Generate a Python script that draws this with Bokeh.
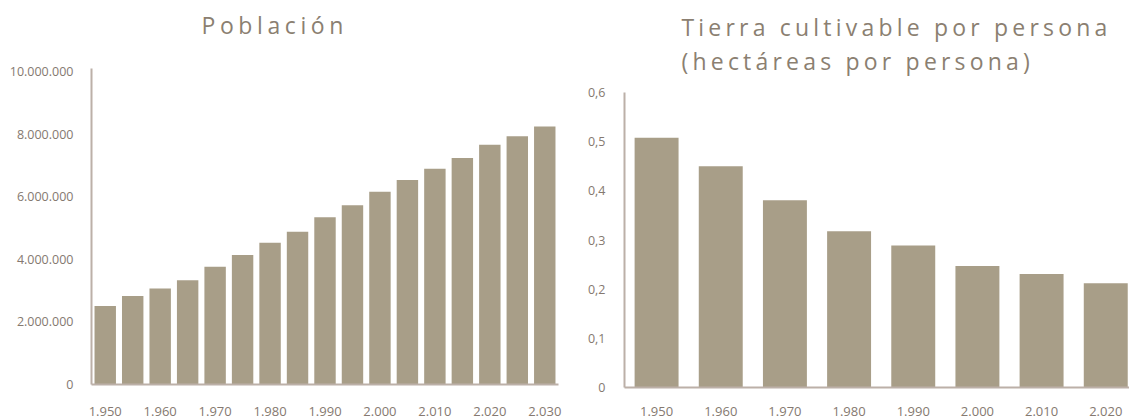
from bokeh.plotting import figure
from bokeh.models import Range1d, FixedTicker, Title, InlineStyleSheet
from bokeh.layouts import row, column
from bokeh.embed import file_html
from bokeh.resources import INLINE

# ---------------- data ----------------
years_pob = [1950, 1955, 1960, 1965, 1970, 1975, 1980, 1985, 1990,
             1995, 2000, 2005, 2010, 2015, 2020, 2025, 2030]
poblacion = [2510000, 2830000, 3070000, 3330000, 3760000, 4140000, 4530000,
             4880000, 5340000, 5730000, 6160000, 6530000, 6890000, 7240000,
             7660000, 7930000, 8240000]
pob_xticks = [1950, 1960, 1970, 1980, 1990, 2000, 2010, 2020, 2030]
pob_xlabels = ["1.950", "1.960", "1.970", "1.980", "1.990", "2.000", "2.010", "2.020", "2.030"]
pob_yticks = [0, 2000000, 4000000, 6000000, 8000000, 10000000]
pob_ylabels = ["0", "2.000.000", "4.000.000", "6.000.000", "8.000.000", "10.000.000"]

years_tierra = [1950, 1960, 1970, 1980, 1990, 2000, 2010, 2020]
tierra = [0.508, 0.450, 0.381, 0.318, 0.289, 0.247, 0.231, 0.212]
tierra_xlabels = ["1.950", "1.960", "1.970", "1.980", "1.990", "2.000", "2.010", "2.020"]
tierra_yticks = [0, 0.1, 0.2, 0.3, 0.4, 0.5, 0.6]
tierra_ylabels = ["0", "0,1", "0,2", "0,3", "0,4", "0,5", "0,6"]

title_left = "Población"
title_right_1 = "Tierra cultivable por persona"
title_right_2 = "(hectáreas por persona)"

# ---------------- style ----------------
BAR = "#a89e88"
AXIS = "#bcb0a8"
TICK_TXT = "#857970"
TITLE_TXT = "#8b7f71"
FONT = "Open Sans"


def style_axes(p, xsize, ysize):
    p.xgrid.visible = False
    p.ygrid.visible = False
    p.outline_line_color = None
    for ax in (p.xaxis, p.yaxis):
        ax.axis_line_color = AXIS
        ax.axis_line_width = 2
        ax.major_tick_line_color = None
        ax.minor_tick_line_color = None
        ax.major_label_text_font = FONT
        ax.major_label_text_color = TICK_TXT
    p.xaxis.major_label_text_font_size = xsize
    p.yaxis.major_label_text_font_size = ysize


def title_fig(width, height, top, spacing):
    t = figure(width=width, height=height, output_backend="svg",
               toolbar_location=None, title=None,
               x_axis_location=None, y_axis_location=None,
               x_range=Range1d(0, 1), y_range=Range1d(0, 1))
    t.min_border = 0
    t.min_border_left = 0
    t.min_border_right = 0
    t.min_border_top = top
    t.min_border_bottom = 0
    t.outline_line_color = None
    t.xgrid.visible = False
    t.ygrid.visible = False
    t.stylesheets = [InlineStyleSheet(css=":host { letter-spacing: %s; }" % spacing)]
    return t


def mk_title(text, offset, standoff):
    return Title(text=text, align="left", offset=offset, standoff=standoff,
                 text_font=FONT, text_font_size="23px",
                 text_font_style="normal", text_color=TITLE_TXT)


# ---------------- left: Población ----------------
tl = title_fig(575, 58, 40, "4.6px")
tl.add_layout(mk_title(title_left, 110, 0), "above")

p1 = figure(width=575, height=360, output_backend="svg", toolbar_location=None,
            title=None, x_range=Range1d(1947.5, 2032.5),
            y_range=Range1d(0, 10096000))
p1.min_border_left = 91
p1.min_border_right = 17
p1.min_border_top = 10
p1.min_border_bottom = 34
p1.vbar(x=years_pob, top=poblacion, bottom=0, width=3.9,
        fill_color=BAR, line_color=None)
style_axes(p1, "13px", "12.5px")
p1.xaxis.ticker = FixedTicker(ticks=pob_xticks)
p1.xaxis.major_label_overrides = dict(zip(pob_xticks, pob_xlabels))
p1.yaxis.ticker = FixedTicker(ticks=pob_yticks)
p1.yaxis.major_label_overrides = dict(zip(pob_yticks, pob_ylabels))
p1.xaxis.major_label_standoff = 16
p1.yaxis.major_label_standoff = 12

# ---------------- right: Tierra cultivable ----------------
tr = title_fig(554, 84, 76, "4.2px")
tr.add_layout(mk_title(title_right_2, 57, 0), "above")
tr.add_layout(mk_title(title_right_1, 57, 0), "above")

p2 = figure(width=554, height=334, output_backend="svg", toolbar_location=None,
            title=None, x_range=Range1d(1945, 2023.7),
            y_range=Range1d(0, 0.6))
p2.min_border_left = 49
p2.min_border_right = 0
p2.min_border_top = 8
p2.min_border_bottom = 31
p2.vbar(x=years_tierra, top=tierra, bottom=0, width=6.85,
        fill_color=BAR, line_color=None)
style_axes(p2, "13px", "12.5px")
p2.xaxis.ticker = FixedTicker(ticks=years_tierra)
p2.xaxis.major_label_overrides = dict(zip(years_tierra, tierra_xlabels))
p2.yaxis.ticker = FixedTicker(ticks=tierra_yticks)
p2.yaxis.major_label_overrides = dict(zip(tierra_yticks, tierra_ylabels))
p2.xaxis.major_label_standoff = 13
p2.yaxis.major_label_standoff = 13

layout = row(column(tl, p1), column(tr, p2))

open("out.html", "w").write(file_html(layout, INLINE))
